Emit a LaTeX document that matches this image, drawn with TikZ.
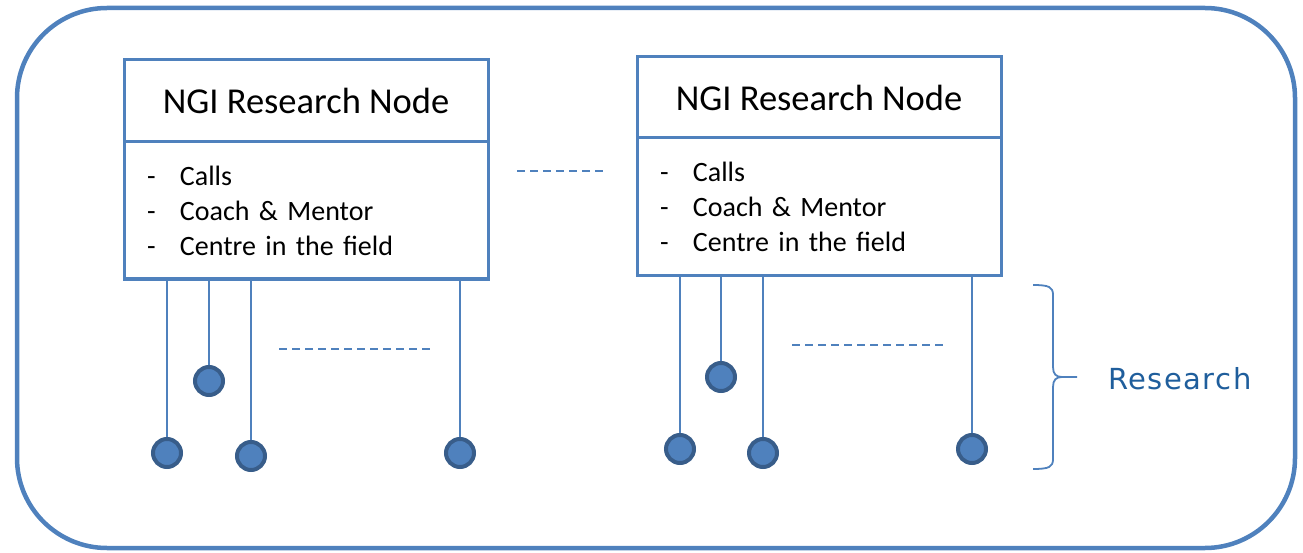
\documentclass[tikz,border=0pt]{standalone}
\usepackage{fontspec}
\setmainfont{Carlito}
\newfontfamily\resfont[LetterSpace=5]{DejaVu Sans}
\usetikzlibrary{decorations.pathreplacing}
\definecolor{ofblue}{HTML}{4F81BD}
\definecolor{ofdark}{HTML}{385D8A}
\definecolor{restxt}{HTML}{1F5E9C}
\tikzset{
  boxhead/.style={draw=ofblue, line width=3pt, minimum width=364pt, inner sep=0pt,
    font=\fontsize{36.5}{42}\selectfont},
  boxbody/.style={draw=ofblue, line width=3pt, minimum width=364pt, inner xsep=23pt, inner ysep=0pt,
    text width=318pt, align=left, font=\fontsize{28}{35}\selectfont},
  dot/.style={circle, draw=ofdark, fill=ofblue, line width=4pt, minimum size=28pt, inner sep=0pt},
  wire/.style={draw=ofblue, line width=1.8pt},
  dots/.style={draw=ofblue, line width=1.6pt, dash pattern=on 8pt off 5pt},
}
\newcommand{\itm}[1]{\makebox[33pt][l]{-}#1}
\begin{document}
\begin{tikzpicture}[x=1pt,y=-1pt]
\useasboundingbox (0,0) rectangle (1303,553);
\draw[ofblue, line width=4.5pt, rounded corners=90pt] (17,8) rectangle (1295,548);
% box 1
\node[boxhead, minimum height=82pt] (h1) at (306,101) {NGI Research Node};
\node[boxbody, minimum height=137pt] (b1) at (306,210.5) {\itm{Calls}\\\itm{Coach \& Mentor}\\\itm{Centre in the field}};
% box 2
\node[boxhead, minimum height=81pt] (h2) at (819,97.5) {NGI Research Node};
\node[boxbody, minimum height=138pt] (b2) at (819,207) {\itm{Calls}\\\itm{Coach \& Mentor}\\\itm{Centre in the field}};
% dots
\node[dot] (d11) at (167,453) {};
\node[dot] (d12) at (209,381) {};
\node[dot] (d13) at (251,456) {};
\node[dot] (d14) at (460,453) {};
\node[dot] (d21) at (680,449) {};
\node[dot] (d22) at (721,377) {};
\node[dot] (d23) at (763,453) {};
\node[dot] (d24) at (972,449) {};
\foreach \d in {d11,d12,d13,d14}{\draw[wire] (\d |- b1.south) -- (\d.north);}
\foreach \d in {d21,d22,d23,d24}{\draw[wire] (\d |- b2.south) -- (\d.north);}
% dashed
\coordinate (m1a) at (517,171); \coordinate (m1b) at (606,171);
\draw[dots] (m1a) -- (m1b);
\coordinate (p1a) at (279,349); \coordinate (p1b) at (433,349);
\draw[dots] (p1a) -- (p1b);
\coordinate (p2a) at (792,345); \coordinate (p2b) at (945,345);
\draw[dots] (p2a) -- (p2b);
% brace
\coordinate (bt) at (1033,285); \coordinate (bb) at (1033,469);
\draw[ofblue, line width=1.8pt] (bt) .. controls (1049,285) and (1053,287) .. (1053,295)
  -- (1053,367) .. controls (1053,374) and (1056,377) .. (1062,377) -- (1077,377)
  (1062,377) .. controls (1056,377) and (1053,380) .. (1053,387)
  -- (1053,459) .. controls (1053,467) and (1049,469) .. (bb);
\node[anchor=base west, text=restxt, inner sep=0pt, font=\resfont\fontsize{29}{34}\selectfont] (res) at (1108,389) {Research};
\end{tikzpicture}
\end{document}
